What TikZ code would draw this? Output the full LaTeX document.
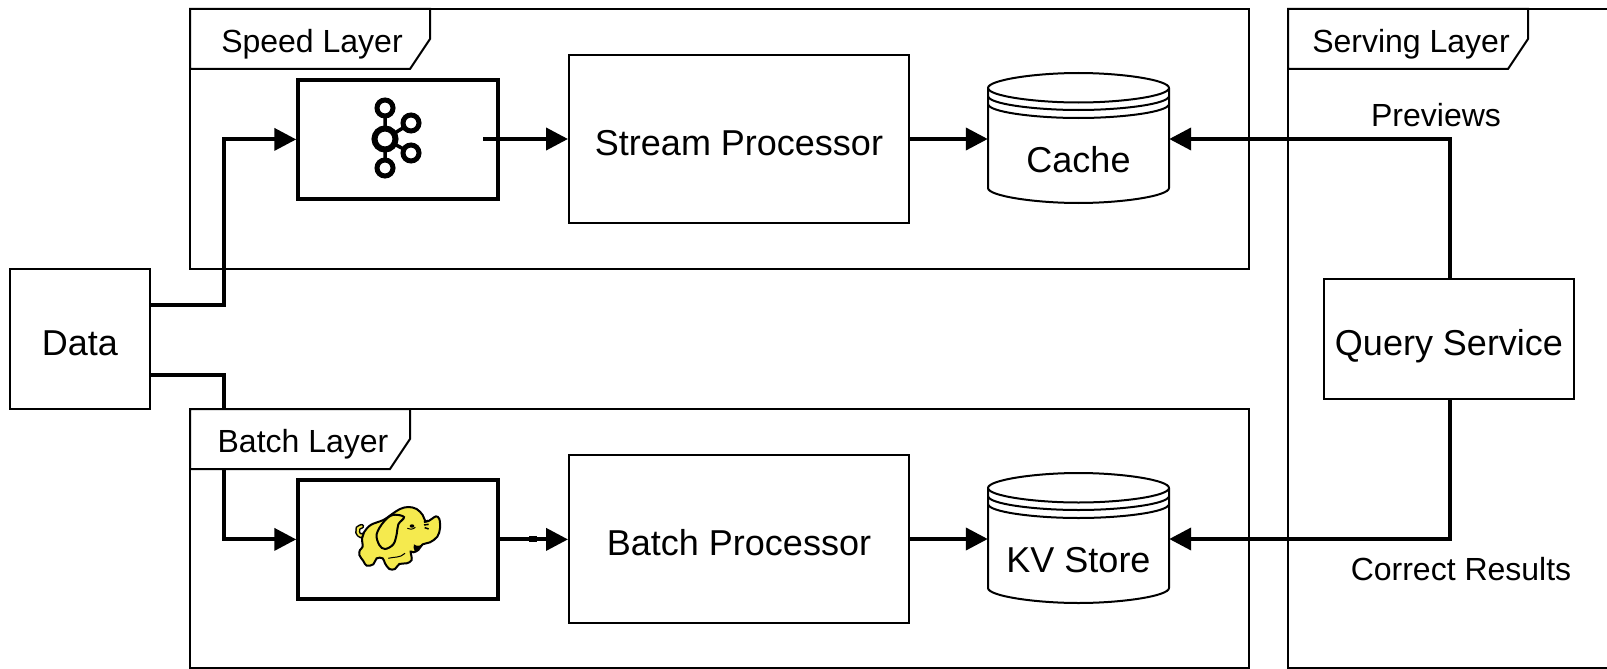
\documentclass[tikz,border=0pt]{standalone}
\usepackage{fontspec}
\setmainfont{Liberation Sans}
\usetikzlibrary{arrows.meta}
\definecolor{hadoopyellow}{HTML}{F5EA4E}
\tikzset{
  bigtext/.style={font=\fontsize{36}{40}\selectfont,inner sep=0pt,anchor=center},
  smalltext/.style={font=\fontsize{32}{36}\selectfont,inner sep=0pt,anchor=center},
  framebox/.style={draw=black,line width=2pt,fill=white},
  thinbox/.style={draw=black,line width=2pt,fill=white,inner sep=0pt,font=\fontsize{36}{40}\selectfont,text height=32pt,text depth=0pt},
  thickbox/.style={draw=black,line width=4pt,fill=white,inner sep=0pt},
  dbanchor/.style={draw=none,inner sep=0pt,minimum width=181pt,minimum height=130pt},
  conn/.style={draw=black,line width=4pt,-{Triangle[length=22pt,width=22pt]}},
  plainconn/.style={draw=black,line width=4pt},
  dbline/.style={draw=black,line width=2pt},
  kring/.style={draw=black,line width=5pt,fill=white},
  kstem/.style={draw=black,line width=3.5pt},
}
\begin{document}
\begin{tikzpicture}[x=1pt,y=-1pt]
\useasboundingbox (0,0) rectangle (1607,669);
\fill[white] (0,0) rectangle (1607,669);
% layer frames
\draw[framebox] (190,9) rectangle (1249,269);
\draw[framebox] (190,409) rectangle (1249,668);
\draw[framebox] (1607,9) -- (1288,9) -- (1288,668) -- (1607,668);
% boxes
\node[thinbox,minimum width=140pt,minimum height=140pt] (data) at (80,339) {Data};
\node[thickbox,minimum width=199.5pt,minimum height=119.5pt] (kafka) at (398,139.4) {};
\node[thickbox,minimum width=199.5pt,minimum height=119.5pt] (hadoop) at (398,539.4) {};
\node[thinbox,minimum width=340pt,minimum height=168pt] (stream) at (739,139) {Stream Processor};
\node[thinbox,minimum width=340pt,minimum height=168pt] (batch) at (739,539) {Batch Processor};
\node[thinbox,minimum width=250pt,minimum height=120pt] (query) at (1449,339) {Query Service};
\node[dbanchor] (cache) at (1078.5,139) {};
\node[dbanchor] (kv) at (1078.5,539) {};
% cylinders
\foreach \dy in {0,400}{
  \begin{scope}[yshift=-\dy pt]
  \draw[dbline,fill=white] (988,88) -- (988,188) .. controls (988,196) and (1035,203) .. (1078.5,203)
     .. controls (1122,203) and (1169,196) .. (1169,188) -- (1169,88)
     .. controls (1169,80) and (1122,73) .. (1078.5,73) .. controls (1035,73) and (988,80) .. (988,88) -- cycle;
  \draw[dbline] (988,88) .. controls (988,96) and (1035,102.5) .. (1078.5,102.5) .. controls (1122,102.5) and (1169,96) .. (1169,88);
  \draw[dbline] (988,96) .. controls (988,104) and (1035,110) .. (1078.5,110) .. controls (1122,110) and (1169,104) .. (1169,96);
  \draw[dbline] (988,104) .. controls (988,112) and (1035,118) .. (1078.5,118) .. controls (1122,118) and (1169,112) .. (1169,104);
  \end{scope}
}
\node[bigtext] (cachelabel) at (1078.5,160) {Cache};
\node[bigtext] (kvlabel) at (1078.5,560) {KV Store};
% connectors
\coordinate (j1) at (224,305);
\coordinate (j2) at (224,375);
\coordinate (kout) at (483,139);
\coordinate (qtop) at (1450,139);
\coordinate (qbot) at (1450,539);
\coordinate (qt) at (1450,279);
\coordinate (qb) at (1450,399);
\draw[conn] ([yshift=34pt]data.east) -- (j1) |- (kafka.west);
\draw[conn] ([yshift=-36pt]data.east) -- (j2) |- (hadoop.west);
\draw[conn] (kout) -- (stream.west);
\draw[conn] (hadoop.east) -- (stream.west |- hadoop.east);
\draw[black,line width=5.5pt] (529,539) -- (537,539);
\draw[conn] (stream.east) -- (cache.west);
\draw[conn] (batch.east) -- (kv.west);
\draw[conn] (qt) -- (qtop) -- (cache.east);
\draw[conn] (qb) -- (qbot) -- (kv.east);
% tabs
\draw[framebox] (190,9) -- (430,9) -- (430,39) -- (410,69) -- (190,69) -- cycle;
\draw[framebox] (190,409) -- (410,409) -- (410,439) -- (390,469) -- (190,469) -- cycle;
\draw[framebox] (1288,9) -- (1528,9) -- (1528,39) -- (1508,69) -- (1288,69) -- cycle;
\node[smalltext] (speedlabel) at (312,44) {Speed Layer};
\node[smalltext] (batchlabel) at (303,444) {Batch Layer};
\node[smalltext] (servinglabel) at (1411,44) {Serving Layer};
\node[smalltext] (previews) at (1436,115) {Previews};
\node[smalltext] (correct) at (1461,569) {Correct Results};
% kafka icon
\draw[kstem] (385,108) -- (385,168) (385,139) -- (411,123) (385,139) -- (411,153);
\draw[kring] (385,108) circle (8pt);
\draw[kring] (411,123) circle (8pt);
\draw[kring] (411,153) circle (8pt);
\draw[kring] (385,168) circle (8pt);
\draw[draw=black,line width=6pt,fill=white] (385,139) circle (10.5pt);
% hadoop elephant
\begin{scope}[shift={(350,495)},x=.3333pt,y=-.3333pt]
\draw[black,line width=5pt,line cap=round] plot[smooth,tension=.8] coordinates {(44,118) (32,122) (23,112) (24,100) (35,94)};
\draw[hadoopyellow,line width=2pt,line cap=round] plot[smooth,tension=.8] coordinates {(44,118) (32,122) (23,112) (24,100) (35,94)};
\draw[draw=black,line width=2pt,fill=hadoopyellow] plot[smooth cycle,tension=.6] coordinates {
 (42,112) (62,90) (100,75) (125,58) (150,42) (175,36) (200,42) (218,60) (228,80) (245,72) (258,64) (268,72) (270,100) (262,125) (240,142) (218,148) (205,165) (190,172) (182,170) (185,195) (170,205) (148,207) (135,222) (118,222) (105,205) (98,190) (80,190) (70,208) (50,212) (40,198) (28,180) (30,165) (38,155) (36,130)};
\draw[draw=black,line width=2pt,fill=hadoopyellow] plot[smooth cycle,tension=.6] coordinates {
 (128,60) (100,82) (80,118) (88,150) (105,162) (130,148) (140,118) (145,88) (162,66)};
\fill[black] (186,93) ellipse (7 and 5);
\draw[black,line width=1pt] (172,100) .. controls (178,104) and (188,104) .. (196,97);
\draw[black,line width=1.5pt] (222,82) -- (234,76) (222,90) -- (236,88) (224,98) -- (236,102);
\fill[black] (192,148) .. controls (200,154) and (208,154) .. (216,148) .. controls (212,160) and (204,168) .. (194,168) .. controls (190,162) and (190,154) .. (192,148) -- cycle;
\draw[black,line width=1pt] (115,190) .. controls (130,185) and (150,190) .. (165,175);
\end{scope}
\end{tikzpicture}
\end{document}
